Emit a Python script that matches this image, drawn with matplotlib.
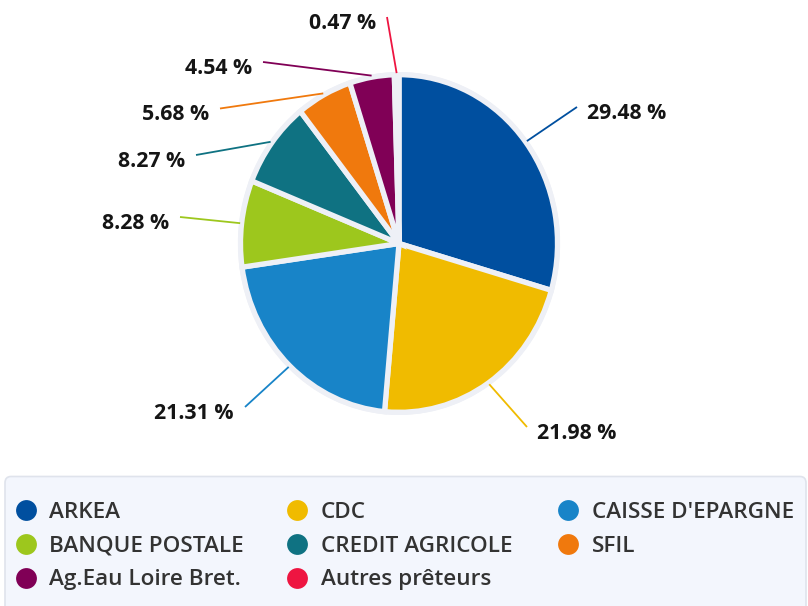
import matplotlib
matplotlib.use("Agg")
import matplotlib.pyplot as plt
from matplotlib.patches import Ellipse, FancyBboxPatch
import numpy as np

# ---- data ----
lenders = ["ARKEA", "CDC", "CAISSE D'EPARGNE", "BANQUE POSTALE", "CREDIT AGRICOLE",
           "SFIL", "Ag.Eau Loire Bret.", "Autres prêteurs"]
shares = [29.48, 21.98, 21.31, 8.28, 8.27, 5.68, 4.54, 0.47]
colors = ["#004f9f", "#f0bb00", "#1884c8", "#9dc71d", "#0f7282",
          "#f0790d", "#800056", "#ee1541"]

# ---- layout (pixel space of an 808x606 picture) ----
W, H = 808, 606
S = 1.065  # vertical stretch of the pie

def Y(py):
    return (H - py) / S

fig = plt.figure(figsize=(W / 100, H / 100), dpi=100)
ax = fig.add_axes([0, 0, 1, 1])

cx, cy = 399, Y(243.5)
halo = "#eef0f6"

ax.add_patch(Ellipse((cx, cy), 2 * 161, 2 * 161, facecolor=halo, edgecolor="none", zorder=0))
wedges, _ = ax.pie(shares, colors=colors, startangle=90, counterclock=False,
                   center=(cx, cy), radius=158.5, frame=True,
                   wedgeprops=dict(edgecolor=halo, linewidth=3.8))
for w in wedges:
    w.set_zorder(1)

# label anchor (end of connector) in pixels, and side
ends = [(577, 107, "l"), (527, 427, "l"), (245, 407, "r"), (180, 217, "r"),
        (196, 155, "r"), (220, 108.5, "r"), (263, 62, "r"), (387, 17, "r")]

total = sum(shares)
cum = np.cumsum([0] + shares[:-1])
label_font = dict(family=["Open Sans", "DejaVu Sans"], fontweight="bold", fontsize=15.3, color="#151515")
for v, c0, col, (ex, ey, side) in zip(shares, cum, colors, ends):
    theta = np.deg2rad((c0 + v / 2) / total * 360)
    sx = cx + 160 * np.sin(theta)
    sy = cy + 160 * np.cos(theta)
    ax.plot([sx, ex], [sy, Y(ey)], color=col, lw=1.3, zorder=2, solid_capstyle="butt")
    txt = f"{v:.2f} %"
    if side == "l":
        ax.text(ex + 10, Y(ey + 12), txt, ha="left", va="baseline", **label_font)
    else:
        ax.text(ex - 11, Y(ey + 12), txt, ha="right", va="baseline", **label_font)

# ---- legend box ----
ax.add_patch(FancyBboxPatch((5, Y(640)), 801, Y(476.5) - Y(640),
                            boxstyle="round,pad=0,rounding_size=6",
                            facecolor="#f3f6fd", edgecolor="#dfe3ec", lw=1.2, zorder=0))
col_marker = [25.5, 296.5, 567.5]
col_text = [49, 321, 592]
row_y = [510, 544, 578]
for i, (name, col) in enumerate(zip(lenders, colors)):
    r, c = divmod(i, 3)
    ax.scatter([col_marker[c]], [Y(row_y[r])], s=225, color=col, zorder=3, linewidths=0)
    ax.text(col_text[c], Y(row_y[r] + 7.5), name, ha="left", va="baseline",
            family=["Open Sans", "DejaVu Sans"], fontweight="semibold", fontsize=16.2,
            color="#333333", zorder=3)

ax.set_xlim(0, W)
ax.set_ylim(0, H / S)
ax.set_aspect("auto")
ax.axis("off")

fig.savefig("out.png", dpi=100)
